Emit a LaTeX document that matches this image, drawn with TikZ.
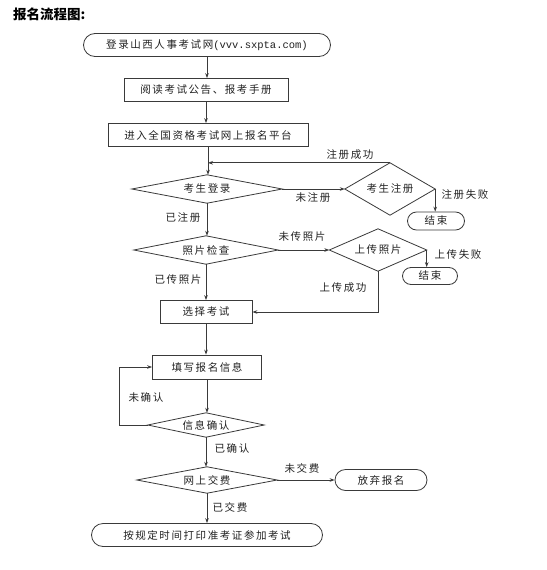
\documentclass[tikz,border=0pt]{standalone}
\usepackage{fontspec}
\setmainfont{Noto Sans CJK SC}[LetterSpace=15]
\newfontfamily\titlefamily{Noto Sans CJK SC}
\newfontfamily\monofamily{Liberation Mono}
\usetikzlibrary{arrows.meta}
\definecolor{linec}{HTML}{3A3A3A}
\definecolor{textc}{HTML}{222222}
\newcommand{\fs}{\fontsize{10.5}{12}\selectfont}
\tikzset{
  box/.style={draw=linec, line width=0.8pt, minimum height=23pt, inner sep=0pt, text=textc, font=\fs},
  stad/.style={box, rounded corners=11.5pt},
  dia/.style={inner sep=0pt, text=textc, font=\fs},
  lab/.style={text=textc, font=\fs, inner sep=0pt},
  ln/.style={draw=linec, line width=0.8pt},
  arr/.style={ln, -{Stealth[length=5pt,width=3.6pt]}}
}
\begin{document}
\begin{tikzpicture}[x=1pt,y=-1pt]
\useasboundingbox[fill=white] (0,0) rectangle (546,570);
\node[lab, anchor=west, font={\titlefamily\bfseries\fontsize{13.5}{15}\selectfont}, text=black] (title) at (13,14) {报名流程图:};

\node[stad, minimum width=247pt] (n1) at (207,45) {登录山西人事考试网{\monofamily\fontsize{10.5}{12}\selectfont(vvv.sxpta.com)}};
\node[box, minimum width=164pt] (n2) at (206,90) {阅读考试公告、报考手册};
\node[box, minimum width=200pt] (n3) at (208,135) {进入全国资格考试网上报名平台};
\node[dia, minimum width=150pt, minimum height=28pt] (d1) at (207,189) {考生登录};
\node[dia, minimum width=90pt, minimum height=52pt] (d2) at (390,189) {考生注册};
\node[stad, minimum width=57pt, minimum height=18pt, rounded corners=9pt] (e1) at (436,221) {结束};
\node[dia, minimum width=144pt, minimum height=28pt] (d3) at (206,250) {照片检查};
\node[dia, minimum width=97pt, minimum height=42pt] (d4) at (378,250) {上传照片};
\node[stad, minimum width=55pt, minimum height=17pt, rounded corners=8.5pt] (e2) at (430,276) {结束};
\node[box, minimum width=92pt] (n4) at (206,312) {选择考试};
\node[box, minimum width=109pt, minimum height=24pt] (n5) at (207,367) {填写报名信息};
\node[dia, minimum width=116pt, minimum height=24pt] (d5) at (206,425) {信息确认};
\node[dia, minimum width=140pt, minimum height=26pt] (d6) at (207,480) {网上交费};
\node[stad, minimum width=92pt, minimum height=21pt, rounded corners=10.5pt] (e3) at (381,480) {放弃报名};
\node[stad, minimum width=231pt] (e4) at (207,535) {按规定时间打印准考证参加考试};

\foreach \n in {d1,d2,d3,d4,d5,d6}
  \draw[ln] (\n.north) -- (\n.east) -- (\n.south) -- (\n.west) -- cycle;

\draw[arr] (n1.south) -- (n1.south |- n2.north);
\draw[arr] (n2.south) -- (n2.south |- n3.north);
\draw[arr] (n3.south) -- (n3.south |- d1.north);
\draw[arr] (d2.north) -- (d2.north -| n3.south);
\draw[arr] (d1.east) -- (d2.west);
\draw[arr] (d2.east) -- (d2.east |- e1.north);
\draw[arr] (d1.south) -- (d1.south |- d3.north);
\draw[arr] (d3.east) -- (d4.west);
\draw[arr] (d4.east) -- (d4.east |- e2.north);
\draw[arr] (d4.south) |- (n4.east);
\draw[arr] (d3.south) -- (d3.south |- n4.north);
\draw[arr] (n4.south) -- (n4.south |- n5.north);
\draw[arr] (n5.south) -- (n5.south |- d5.north);
\draw[arr] (d5.west) -- ++(-28,0) |- (n5.west);
\draw[arr] (d5.south) -- (d5.south |- d6.north);
\draw[arr] (d6.east) -- (e3.west);
\draw[arr] (d6.south) -- (d6.south |- e4.north);

\node[lab] (l1) at (350,155) {注册成功};
\node[lab] (l2) at (313,198) {未注册};
\node[lab] (l3) at (465,195) {注册失败};
\node[lab] (l4) at (183,218) {已注册};
\node[lab] (l5) at (302,237) {未传照片};
\node[lab] (l6) at (458,255) {上传失败};
\node[lab] (l7) at (178,280) {已传照片};
\node[lab] (l8) at (343,288) {上传成功};
\node[lab] (l9) at (146,397) {未确认};
\node[lab] (l10) at (232,448) {已确认};
\node[lab] (l11) at (302,468) {未交费};
\node[lab] (l12) at (230,507) {已交费};
\end{tikzpicture}
\end{document}
